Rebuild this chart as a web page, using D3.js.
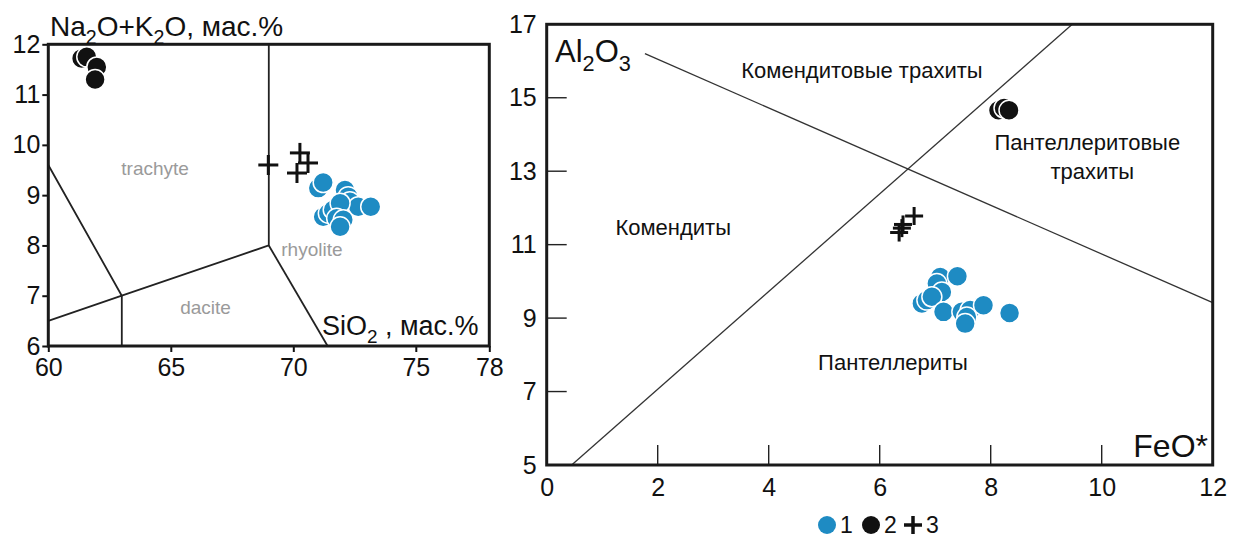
<!DOCTYPE html>
<html>
<head>
<meta charset="utf-8">
<script src="https://cdn.jsdelivr.net/npm/d3@7"></script>
<style>
  html, body { margin: 0; padding: 0; background: #fff; }
  svg { display: block; font-family: Arial, "Liberation Sans", sans-serif; }
</style>
</head>
<body>
<svg id="chart" width="1236" height="537"></svg>
<script>
// ---- TAS diagram (SiO2 vs Na2O+K2O) ----
const tasXTicks = [60, 65, 70, 75, 78];
const tasYTicks = [6, 7, 8, 9, 10, 11, 12];

// Field boundaries, each a polyline in [SiO2, Na2O+K2O]
const tasBoundaries = [
  [[69, 12], [69, 8], [63, 7], [60, 6.5]],
  [[60, 9.6], [63, 7], [63, 6]],
  [[69, 8], [71.4, 6]]
];
const tasFieldNames = ["trachyte", "rhyolite", "dacite"];
const tasFieldPos = [[64.36, 9.40], [70.76, 7.79], [66.42, 6.63]];

// Group 1 (blue), group 2 (black), group 3 (crosses)
const tasGroup1 = [
  [71.02, 9.14], [71.22, 9.25], [72.11, 9.10], [72.24, 8.97], [72.31, 8.87],
  [72.65, 8.77], [73.16, 8.77], [71.22, 8.57], [71.43, 8.64], [71.63, 8.71],
  [71.91, 8.84], [71.77, 8.54], [72.04, 8.51], [71.91, 8.37]
];
const tasGroup2 = [[61.36, 11.72], [61.57, 11.75], [61.98, 11.55], [61.91, 11.30]];
const tasGroup3 = [[68.98, 9.60], [70.27, 9.84], [70.6, 9.64], [70.15, 9.44]];

// ---- Al2O3 vs FeO* diagram ----
const feoTicks = [0, 2, 4, 6, 8, 10, 12];
const alTicks = [5, 7, 9, 11, 13, 15, 17];
const feoBoundaries = [
  [[0.45, 5], [9.47, 17]],
  [[1.77, 16.2], [12, 9.42]]
];
const feoFieldNames = ["Комендитовые трахиты", "Пантеллеритовые", "трахиты", "Комендиты", "Пантеллериты"];
const feoFieldPos = [[5.68, 15.54], [9.74, 13.58], [9.83, 12.80], [2.28, 11.25], [6.24, 7.60]];

const feoGroup1 = [
  [7.09, 10.12], [7.40, 10.14], [7.03, 9.94], [7.12, 9.71], [6.76, 9.40],
  [6.85, 9.49], [6.94, 9.58], [7.15, 9.17], [7.48, 9.17], [7.63, 9.22],
  [7.57, 9.03], [7.54, 8.85], [7.87, 9.35], [8.34, 9.14]
];
const feoGroup2 = [[8.14, 14.66], [8.24, 14.72], [8.33, 14.66]];
const feoGroup3 = [[6.35, 11.33], [6.40, 11.45], [6.42, 11.55], [6.62, 11.78]];

const legendLabels = ["1", "2", "3"];

const BLUE = "#1e8bc3";
const svg = d3.select("#chart");

// Text with subscripts: parts = [[text, isSub], ...]
function richText(g, x, y, parts, size, anchor) {
  const t = g.append("text").attr("x", x).attr("y", y)
    .attr("font-size", size).attr("fill", "#111")
    .attr("text-anchor", anchor || "start");
  let wasSub = false;
  parts.forEach(([s, sub]) => {
    const ts = t.append("tspan").text(s);
    if (sub && !wasSub) ts.attr("dy", size * 0.28).attr("font-size", size * 0.7);
    else if (sub) ts.attr("font-size", size * 0.7);
    else if (!sub && wasSub) ts.attr("dy", -size * 0.28);
    wasSub = sub;
  });
  return t;
}

function drawPoints(g, x, y, blue, black, crosses, r, arm) {
  g.append("g").selectAll("circle").data(blue).join("circle")
    .attr("cx", d => x(d[0])).attr("cy", d => y(d[1])).attr("r", r)
    .attr("fill", BLUE).attr("stroke", "#fff").attr("stroke-width", 1.5);
  g.append("g").selectAll("circle").data(black).join("circle")
    .attr("cx", d => x(d[0])).attr("cy", d => y(d[1])).attr("r", r)
    .attr("fill", "#111").attr("stroke", "#fff").attr("stroke-width", 1.5);
  const cg = g.append("g").attr("stroke", "#111").attr("stroke-width", 3);
  crosses.forEach(d => {
    cg.append("line").attr("x1", x(d[0]) - arm).attr("x2", x(d[0]) + arm)
      .attr("y1", y(d[1])).attr("y2", y(d[1]));
    cg.append("line").attr("x1", x(d[0])).attr("x2", x(d[0]))
      .attr("y1", y(d[1]) - arm).attr("y2", y(d[1]) + arm);
  });
}

// ================= Left panel =================
{
  const x = d3.scaleLinear().domain([60, 78]).range([48.3, 489.3]);
  const y = d3.scaleLinear().domain([6, 12]).range([346, 44.3]);
  const g = svg.append("g");

  const xAxis = g.append("g").attr("transform", `translate(0,${y(6)})`)
    .call(d3.axisBottom(x).tickValues(tasXTicks).tickSize(6).tickPadding(6).tickFormat(d3.format("d")));
  const yAxis = g.append("g").attr("transform", `translate(${x(60)},0)`)
    .call(d3.axisLeft(y).tickValues(tasYTicks).tickSize(6).tickPadding(2).tickFormat(d3.format("d")));
  [xAxis, yAxis].forEach(a => {
    a.select(".domain").remove();
    a.selectAll("line").attr("stroke", "#111").attr("stroke-width", 2);
    a.selectAll("text").attr("font-size", 25).attr("fill", "#111")
      .attr("font-family", "Arial, 'Liberation Sans', sans-serif");
  });

  const line = d3.line().x(d => x(d[0])).y(d => y(d[1]));
  g.append("g").selectAll("path").data(tasBoundaries).join("path")
    .attr("d", line).attr("fill", "none").attr("stroke", "#222").attr("stroke-width", 1.8);

  g.append("rect").attr("x", x(60)).attr("y", y(12))
    .attr("width", x(78) - x(60)).attr("height", y(6) - y(12))
    .attr("fill", "none").attr("stroke", "#1a1a1a").attr("stroke-width", 3);

  g.append("g").selectAll("text").data(tasFieldNames).join("text")
    .attr("x", (d, i) => x(tasFieldPos[i][0])).attr("y", (d, i) => y(tasFieldPos[i][1]))
    .attr("text-anchor", "middle").attr("font-size", 19).attr("fill", "#9a9a9a")
    .text(d => d);

  drawPoints(g, x, y, tasGroup1, tasGroup2, tasGroup3, 10, 10);

  richText(g, 50, 36, [["Na", false], ["2", true], ["O+K", false], ["2", true], ["O", false], [", мас.%", false]], 28);
  richText(g, 322, 335, [["SiO", false], ["2", true], [" , мас.%", false]], 27);
}

// ================= Right panel =================
{
  const x = d3.scaleLinear().domain([0, 12]).range([546.7, 1212.7]);
  const y = d3.scaleLinear().domain([5, 17]).range([465, 24.3]);
  const g = svg.append("g");

  const xAxis = g.append("g").attr("transform", `translate(0,${y(5)})`)
    .call(d3.axisBottom(x).tickValues(feoTicks).tickSize(0).tickPadding(13).tickFormat(d3.format("d")));
  const yAxis = g.append("g").attr("transform", `translate(${x(0)},0)`)
    .call(d3.axisLeft(y).tickValues(alTicks).tickSize(0).tickPadding(10).tickFormat(d3.format("d")));
  [xAxis, yAxis].forEach(a => {
    a.select(".domain").remove();
    a.selectAll("text").attr("font-size", 25).attr("fill", "#111")
      .attr("font-family", "Arial, 'Liberation Sans', sans-serif");
  });

  // inner tick marks
  const tg = g.append("g").attr("stroke", "#222").attr("stroke-width", 1.4);
  tg.selectAll("line.xt").data(feoTicks.slice(1, -1)).join("line")
    .attr("x1", d => x(d)).attr("x2", d => x(d)).attr("y1", y(5)).attr("y2", y(5) - 20);
  tg.selectAll("line.yt").data(alTicks.slice(1, -1)).join("line")
    .attr("x1", x(0)).attr("x2", x(0) + 20).attr("y1", d => y(d)).attr("y2", d => y(d));

  const line = d3.line().x(d => x(d[0])).y(d => y(d[1]));
  g.append("g").selectAll("path").data(feoBoundaries).join("path")
    .attr("d", line).attr("fill", "none").attr("stroke", "#333").attr("stroke-width", 1.3);

  g.append("rect").attr("x", x(0)).attr("y", y(17))
    .attr("width", x(12) - x(0)).attr("height", y(5) - y(17))
    .attr("fill", "none").attr("stroke", "#1a1a1a").attr("stroke-width", 3);

  g.append("g").selectAll("text").data(feoFieldNames).join("text")
    .attr("x", (d, i) => x(feoFieldPos[i][0])).attr("y", (d, i) => y(feoFieldPos[i][1]))
    .attr("text-anchor", "middle").attr("font-size", 22).attr("fill", "#111")
    .text(d => d);

  drawPoints(g, x, y, feoGroup1, feoGroup2, feoGroup3, 10, 9);

  richText(g, 555, 62, [["Al", false], ["2", true], ["O", false], ["3", true]], 31);
  richText(g, 1208, 457, [["FeO*", false]], 32, "end");

  // legend
  const lg = svg.append("g").attr("font-size", 23).attr("fill", "#111");
  const lx = [827, 871, 913];
  const ly = 525;
  lg.append("circle").attr("cx", lx[0]).attr("cy", ly).attr("r", 9).attr("fill", BLUE);
  lg.append("circle").attr("cx", lx[1]).attr("cy", ly).attr("r", 9).attr("fill", "#111");
  lg.append("line").attr("x1", lx[2] - 9).attr("x2", lx[2] + 9).attr("y1", ly).attr("y2", ly)
    .attr("stroke", "#111").attr("stroke-width", 3.5);
  lg.append("line").attr("x1", lx[2]).attr("x2", lx[2]).attr("y1", ly - 9).attr("y2", ly + 9)
    .attr("stroke", "#111").attr("stroke-width", 3.5);
  lg.selectAll("text").data(legendLabels).join("text")
    .attr("x", (d, i) => lx[i] + 13).attr("y", ly + 8).text(d => d);
}
</script>
</body>
</html>
